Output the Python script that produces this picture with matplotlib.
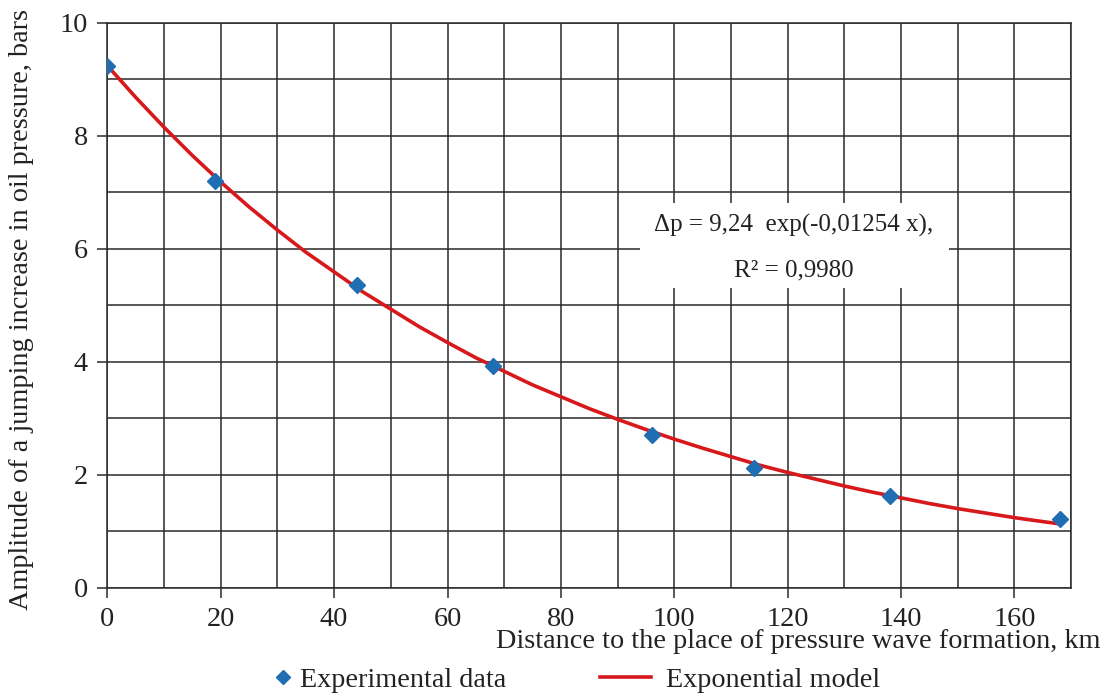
import numpy as np
import matplotlib
matplotlib.use("Agg")
import matplotlib.pyplot as plt
from matplotlib.lines import Line2D
from matplotlib.patches import Rectangle

plt.rcParams["font.family"] = ["Liberation Serif", "DejaVu Serif"]

# measured points
dist = [0, 19, 44, 68, 96, 114, 138, 168]
amp = [9.24, 7.19, 5.35, 3.93, 2.71, 2.12, 1.63, 1.22]

# model curve
model_x = [0, 5, 10, 15, 20, 25, 30, 35, 40, 45, 50, 55, 60, 65, 70, 75, 80, 85,
           90, 95, 100, 105, 110, 115, 120, 125, 130, 135, 140, 145, 150, 155,
           160, 165, 168]
model_y = [9.24, 8.68, 8.15, 7.65, 7.18, 6.74, 6.33, 5.94, 5.59, 5.24, 4.93, 4.62,
           4.34, 4.07, 3.83, 3.59, 3.38, 3.17, 2.98, 2.80, 2.63, 2.47, 2.32, 2.17,
           2.04, 1.92, 1.80, 1.69, 1.59, 1.49, 1.40, 1.32, 1.24, 1.17, 1.13]

x_ticks = [0, 20, 40, 60, 80, 100, 120, 140, 160]
y_ticks = [0, 2, 4, 6, 8, 10]

blue = "#1f6db3"
red = "#d7191c"
txt = "#222222"
fs = 20.3

fig = plt.figure(figsize=(11.1, 6.97), dpi=100)
ax = fig.add_axes([0.0967, 0.1568, 0.8683, 0.8106])

ax.set_xlim(0, 170)
ax.set_ylim(0, 10)
ax.set_xticks(x_ticks)
ax.set_yticks(y_ticks)
ax.set_xticks(np.arange(0, 171, 10), minor=True)
ax.set_yticks(np.arange(0, 11, 1), minor=True)
ax.grid(which="both", color="#2a2a2a", linewidth=1.1, zorder=0)
ax.set_axisbelow(True)
for s in ax.spines.values():
    s.set_color("#2a2a2a")
    s.set_linewidth(1.1)
ax.tick_params(which="major", direction="out", length=7, width=1.1, color="#2a2a2a",
               labelsize=fs, pad=7, labelcolor=txt)
ax.tick_params(which="minor", length=0)

ax.add_patch(Rectangle((94.0, 5.30), 54.4, 1.51, facecolor="white", edgecolor="none", zorder=1.5))
ax.text(121, 6.42, "Δp = 9,24  exp(-0,01254 x),", ha="center", va="center",
        fontsize=18, color=txt, zorder=3)
ax.text(121, 5.62, "R² = 0,9980", ha="center", va="center", fontsize=18,
        color=txt, zorder=3)

ax.plot(model_x, model_y, color=red, linewidth=2.6, zorder=3, solid_capstyle="round")
ax.plot(dist, amp, linestyle="none", marker="D", markersize=8, color=blue, zorder=4)

fig.text(1100 / 1110, 1 - 641 / 697, "Distance to the place of pressure wave formation, km",
         ha="right", va="center", fontsize=fs, color=txt)
fig.text(22 / 1110, 1 - 310 / 697, "Amplitude of a jumping increase in oil pressure, bars",
         ha="center", va="center", rotation=90, fontsize=fs, color=txt)

leg_y = 1 - 680 / 697
h1 = Line2D([], [], linestyle="none", marker="D", markersize=7, color=blue)
h2 = Line2D([], [], color=red, linewidth=2.6)
leg1 = fig.legend([h1], ["Experimental data"], loc="center left",
                  bbox_to_anchor=(276 / 1110, leg_y), frameon=False, fontsize=fs,
                  borderpad=0, borderaxespad=0, handlelength=0.5, handletextpad=0.36,
                  labelcolor=txt)
fig.legend([h2], ["Exponential model"], loc="center left",
           bbox_to_anchor=(600 / 1110, leg_y), frameon=False, fontsize=fs,
           borderpad=0, borderaxespad=0, handlelength=1.8, handletextpad=0.53,
           labelcolor=txt)

fig.savefig("out.png", dpi=100)
